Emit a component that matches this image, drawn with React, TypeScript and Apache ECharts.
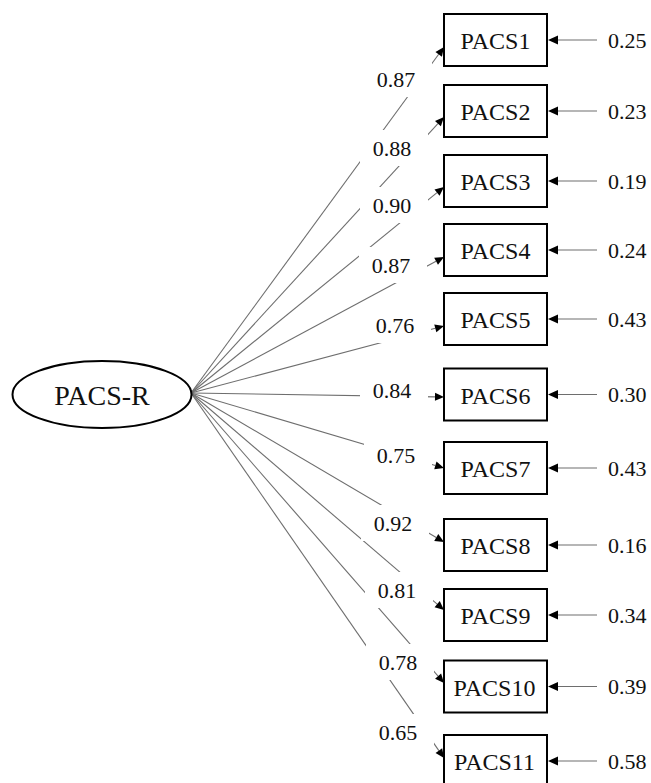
import React, { useEffect, useRef } from "react";
import * as echarts from "echarts";

// ---- data ----
const latentName = "PACS-R";
const indicators = ["PACS1", "PACS2", "PACS3", "PACS4", "PACS5", "PACS6", "PACS7", "PACS8", "PACS9", "PACS10", "PACS11"];
const loadings = [0.87, 0.88, 0.9, 0.87, 0.76, 0.84, 0.75, 0.92, 0.81, 0.78, 0.65];
const errors = [0.25, 0.23, 0.19, 0.24, 0.43, 0.3, 0.43, 0.16, 0.34, 0.39, 0.58];

// ---- layout (diagram coordinates) ----
const boxCenterY = [40, 111, 181, 250, 319, 394.5, 468, 545, 615, 686.5, 761];
const arrowTipY = [47, 117, 187, 257, 326, 397, 468, 542, 610, 683, 758];
const loadingLabelX = [396, 392, 392, 391, 395, 392, 396, 393, 397, 398, 398];
const loadingLabelY = [79, 148, 205, 265, 325, 390, 455, 523, 590, 662, 732];
const ORIGIN = [191, 393];
const ELLIPSE = { cx: 102, cy: 394.5, rx: 89.5, ry: 33.5 };
const BOX_LEFT = 444;
const BOX_W = 103;
const BOX_H = 52;
const ERR_START = 597;
const ERR_LABEL_X = 608;

const SERIF = "'Liberation Serif', 'Times New Roman', 'DejaVu Serif', serif";
const fmt = (v: number) => v.toFixed(2);

function arrowHead(tip: number[], from: number[], len: number, wid: number) {
  const dx = tip[0] - from[0];
  const dy = tip[1] - from[1];
  const l = Math.sqrt(dx * dx + dy * dy) || 1;
  const ux = dx / l, uy = dy / l;
  const nx = -uy, ny = ux;
  const bx = tip[0] - ux * len, by = tip[1] - uy * len;
  return [
    [tip[0], tip[1]],
    [bx + (nx * wid) / 2, by + (ny * wid) / 2],
    [bx - (nx * wid) / 2, by - (ny * wid) / 2],
  ];
}

export default function App() {
  const ref = useRef<HTMLDivElement>(null);
  useEffect(() => {
    if (!ref.current) return;
    document.body.style.margin = "0";
    const chart = echarts.init(ref.current, undefined, { renderer: "svg" });

    const loadingData = indicators.map((_, i) => [ORIGIN[0], ORIGIN[1], BOX_LEFT, arrowTipY[i]]);
    const labelData = indicators.map((_, i) => [loadingLabelX[i], loadingLabelY[i], loadings[i]]);
    const boxData = indicators.map((name, i) => [BOX_LEFT, boxCenterY[i]]);
    const errorData = indicators.map((_, i) => [ERR_START, boxCenterY[i], errors[i]]);

    const textStyle = (text: string, x: number, y: number, size: number, align: string) => ({
      text,
      x,
      y,
      fill: "#111",
      font: `${size}px ${SERIF}`,
      align,
      verticalAlign: "middle",
      textAlign: align,
      textVerticalAlign: "middle",
    });

    const option: any = {
      animation: false,
      backgroundColor: "#ffffff",
      grid: { left: 0, right: 0, top: 0, bottom: 0 },
      xAxis: { type: "value", min: 0, max: 651, show: false },
      yAxis: { type: "value", min: 0, max: 783, inverse: true, show: false },
      tooltip: { show: false },
      series: [
        {
          // loading paths
          type: "custom",
          z: 1,
          silent: true,
          clip: false,
          data: loadingData,
          renderItem: (params: any, api: any) => {
            const p0 = api.coord([api.value(0), api.value(1)]);
            const p1 = api.coord([api.value(2), api.value(3)]);
            const head = arrowHead(p1, p0, 9, 8);
            const bx = (head[1][0] + head[2][0]) / 2;
            const by = (head[1][1] + head[2][1]) / 2;
            return {
              type: "group",
              children: [
                {
                  type: "line",
                  shape: { x1: p0[0], y1: p0[1], x2: bx, y2: by },
                  style: { stroke: "#6e6e6e", lineWidth: 1.1 },
                },
                { type: "polygon", shape: { points: head }, style: { fill: "#000" } },
              ],
            };
          },
        },
        {
          // loading labels (white background masks the paths)
          type: "custom",
          z: 3,
          silent: true,
          clip: false,
          data: labelData,
          renderItem: (params: any, api: any) => {
            const c = api.coord([api.value(0), api.value(1)]);
            return {
              type: "group",
              children: [
                {
                  type: "rect",
                  shape: { x: c[0] - 32, y: c[1] - 18, width: 68, height: 36 },
                  style: { fill: "#ffffff", stroke: "none" },
                },
                { type: "text", style: textStyle(fmt(api.value(2)), c[0], c[1], 22, "center") },
              ],
            };
          },
        },
        {
          // observed indicator boxes
          type: "custom",
          z: 4,
          silent: true,
          clip: false,
          data: boxData,
          renderItem: (params: any, api: any) => {
            const c = api.coord([api.value(0), api.value(1)]);
            const name = indicators[params.dataIndex];
            return {
              type: "group",
              children: [
                {
                  type: "rect",
                  shape: { x: c[0], y: c[1] - BOX_H / 2, width: BOX_W, height: BOX_H },
                  style: { fill: "#ffffff", stroke: "#000", lineWidth: 2 },
                },
                {
                  type: "text",
                  style: textStyle(name, c[0] + BOX_W / 2 + (name.length > 5 ? -1 : 0), c[1] + 1, 24, "center"),
                },
              ],
            };
          },
        },
        {
          // error terms
          type: "custom",
          z: 4,
          silent: true,
          clip: false,
          data: errorData,
          renderItem: (params: any, api: any) => {
            const p0 = api.coord([api.value(0), api.value(1)]);
            const p1 = api.coord([BOX_LEFT + BOX_W + 1, api.value(1)]);
            const lp = api.coord([ERR_LABEL_X, api.value(1)]);
            const head = arrowHead(p1, p0, 10, 9);
            return {
              type: "group",
              children: [
                {
                  type: "line",
                  shape: { x1: p0[0], y1: p0[1], x2: p1[0] + 9, y2: p1[1] },
                  style: { stroke: "#6e6e6e", lineWidth: 1.1 },
                },
                { type: "polygon", shape: { points: head }, style: { fill: "#000" } },
                { type: "text", style: textStyle(fmt(api.value(2)), lp[0], lp[1], 22, "left") },
              ],
            };
          },
        },
        {
          // latent factor
          type: "custom",
          z: 5,
          silent: true,
          clip: false,
          data: [[ELLIPSE.cx, ELLIPSE.cy]],
          renderItem: (params: any, api: any) => {
            const c = api.coord([api.value(0), api.value(1)]);
            const e = api.coord([api.value(0) + ELLIPSE.rx, api.value(1) + ELLIPSE.ry]);
            return {
              type: "group",
              children: [
                {
                  type: "ellipse",
                  shape: { cx: c[0], cy: c[1], rx: e[0] - c[0], ry: e[1] - c[1] },
                  style: { fill: "#ffffff", stroke: "#000", lineWidth: 2 },
                },
                { type: "text", style: textStyle(latentName, c[0], c[1] + 1, 28, "center") },
              ],
            };
          },
        },
      ],
    };
    chart.setOption(option);
    return () => chart.dispose();
  }, []);

  return (
    <div
      ref={ref}
      style={{ position: "relative", margin: 0, width: 651, height: 783, background: "#fff" }}
    />
  );
}
